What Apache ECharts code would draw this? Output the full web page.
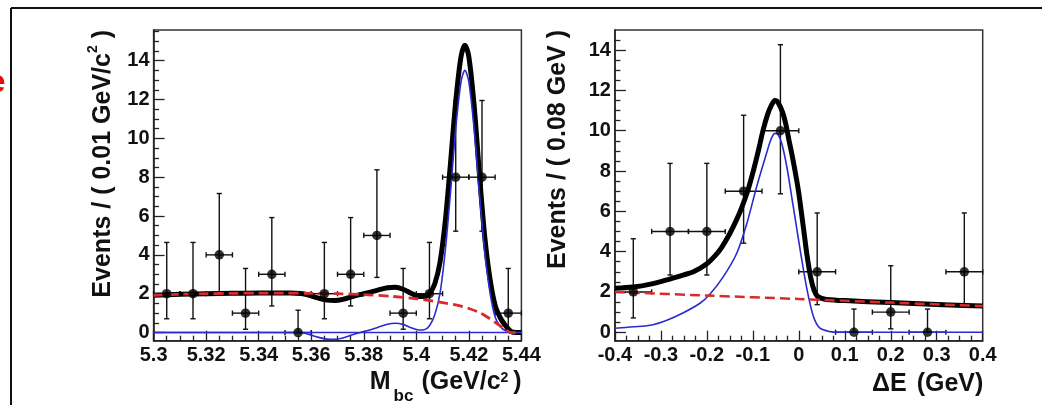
<!DOCTYPE html>
<html>
<head>
<meta charset="utf-8">
<script src="https://cdn.jsdelivr.net/npm/echarts@6/dist/echarts.min.js"></script>
<style>
html,body{margin:0;padding:0;background:#fff;}
#chart{width:1042px;height:405px;}
</style>
</head>
<body>
<div id="chart"></div>
<script>
// ---------------- DATA ----------------
// Left panel: Mbc distribution (bin width 0.01 GeV/c^2)
const mbcCenters = [5.305,5.315,5.325,5.335,5.345,5.355,5.365,5.375,5.385,5.395,5.405,5.415,5.425,5.435];
const mbcCounts  = [2,2,4,1,3,0,2,3,5,1,2,8,8,1];
const mbcErrLow  = [0.71,0.71,2.09,0.17,1.37,0,0.71,1.37,2.84,0.17,0.71,5.22,5.22,0.17];
const mbcErrHigh = [4.64,4.64,7.16,3.30,5.92,1.15,4.64,5.92,8.38,3.30,4.64,11.95,11.95,3.30];
const mbcHalfBin = 0.005;

const mbcTotalCurve = [[5.300,1.92],[5.310,1.97],[5.320,2.00],[5.330,2.02],[5.340,2.03],[5.352,2.03],[5.356,2.01],[5.359,1.93],[5.362,1.80],[5.366,1.67],[5.369,1.65],[5.372,1.71],[5.376,1.87],[5.380,2.00],[5.385,2.17],[5.389,2.31],[5.392,2.33],[5.395,2.23],[5.398,2.02],[5.401,1.86],[5.403,1.85],[5.405,2.02],[5.407,2.5],[5.409,3.6],[5.411,5.7],[5.413,8.7],[5.415,11.9],[5.417,14.2],[5.4185,14.8],[5.420,14.2],[5.422,11.7],[5.424,8.2],[5.426,5.0],[5.428,2.8],[5.430,1.4],[5.432,0.75],[5.434,0.35],[5.436,0.06],[5.438,0.0],[5.440,0.0]];
const mbcSignalCurve = [[5.300,0],[5.355,0],[5.358,-0.05],[5.362,-0.22],[5.366,-0.34],[5.369,-0.35],[5.372,-0.28],[5.376,-0.1],[5.380,0.05],[5.385,0.25],[5.389,0.43],[5.392,0.48],[5.395,0.42],[5.398,0.25],[5.401,0.13],[5.403,0.14],[5.405,0.35],[5.407,0.9],[5.409,2.0],[5.411,4.2],[5.413,7.2],[5.415,10.5],[5.417,12.9],[5.4185,13.5],[5.420,12.9],[5.422,10.5],[5.424,7.2],[5.426,4.2],[5.428,2.1],[5.430,0.8],[5.432,0.3],[5.434,0.09],[5.436,0.02],[5.438,0],[5.440,0]];
const mbcZeroLine = [[5.300,0],[5.440,0]];
const mbcBkgCurve = [[5.300,1.92],[5.310,1.97],[5.320,2.00],[5.330,2.02],[5.340,2.03],[5.350,2.03],[5.360,2.02],[5.370,2.00],[5.380,1.95],[5.390,1.87],[5.400,1.74],[5.405,1.65],[5.410,1.54],[5.415,1.42],[5.420,1.24],[5.424,1.03],[5.427,0.80],[5.430,0.52],[5.433,0.24],[5.435,0.06],[5.436,0],[5.440,0]];

// Right panel: Delta E distribution (bin width 0.08 GeV)
const deCenters = [-0.36,-0.28,-0.20,-0.12,-0.04,0.04,0.12,0.20,0.28,0.36];
const deCounts  = [2,5,5,7,10,3,0,1,0,3];
const deErrLow  = [0.71,2.84,2.84,4.42,6.87,1.37,0,0.17,0,1.37];
const deErrHigh = [4.64,8.38,8.38,10.77,14.27,5.92,1.15,3.30,1.15,5.92];
const deHalfBin = 0.04;

const deTotalCurve = [[-0.40,2.18],[-0.36,2.24],[-0.32,2.40],[-0.287,2.6],[-0.25,2.85],[-0.229,3.0],[-0.20,3.4],[-0.18,3.85],[-0.168,4.2],[-0.15,4.9],[-0.135,5.6],[-0.124,6.2],[-0.11,7.1],[-0.099,8.0],[-0.088,9.0],[-0.078,10.0],[-0.068,10.8],[-0.06,11.25],[-0.052,11.5],[-0.045,11.4],[-0.035,10.9],[-0.028,10.3],[-0.022,9.6],[-0.013,8.6],[-0.005,7.6],[0.0,6.9],[0.01,5.2],[0.018,3.8],[0.026,2.7],[0.033,2.1],[0.04,1.8],[0.05,1.68],[0.06,1.63],[0.10,1.57],[0.20,1.47],[0.30,1.38],[0.40,1.30]];
const deSignalCurve = [[-0.40,0.2],[-0.36,0.27],[-0.323,0.35],[-0.287,0.6],[-0.251,0.97],[-0.215,1.44],[-0.193,1.9],[-0.164,2.76],[-0.135,3.92],[-0.113,5.4],[-0.092,7.2],[-0.07,8.9],[-0.06,9.6],[-0.052,9.87],[-0.045,9.8],[-0.037,9.37],[-0.026,8.2],[-0.012,6.23],[0.003,4.08],[0.018,2.1],[0.032,0.77],[0.046,0.2],[0.068,0.03],[0.09,0],[0.40,0]];
const deBkgCurve = [[-0.40,2.0],[-0.20,1.82],[0.0,1.65],[0.20,1.47],[0.40,1.30]];

// Tick values
const yMajorTicks = [0,2,4,6,8,10,12,14];
const yMinorTicksLeft  = [0.5,1,1.5,2.5,3,3.5,4.5,5,5.5,6.5,7,7.5,8.5,9,9.5,10.5,11,11.5,12.5,13,13.5,14.5,15,15.5];
const yMinorTicksRight = [0.5,1,1.5,2.5,3,3.5,4.5,5,5.5,6.5,7,7.5,8.5,9,9.5,10.5,11,11.5,12.5,13,13.5,14.5];

// ---------------- CHART ----------------
const FONT = 'Liberation Sans';
const chart = echarts.init(document.getElementById('chart'), null, {renderer:'canvas'});

const measCtx = document.createElement('canvas').getContext('2d');
function textW(t, s){ measCtx.font = 'bold ' + s + 'px "' + FONT + '"'; return measCtx.measureText(t).width; }
// parts: {t, s, dy, gap}; right-aligned at group origin, baseline at y=0 (+dy)
function titleGroup(parts, x, y, rotation){
  const ws = parts.map(p => textW(p.t, p.s) + (p.gap||0));
  let cx = -ws.reduce((a,b)=>a+b,0);
  const children = parts.map((p,i) => {
    const el = {type:'text', x: cx, y: (p.dy||0) - 0.35*p.s,
      style:{text:p.t, font:'bold ' + p.s + 'px "' + FONT + '"', fill:'#111',
             align:'left', textAlign:'left', verticalAlign:'middle', textVerticalAlign:'middle'}};
    cx += ws[i];
    return el;
  });
  return {type:'group', x:x, y:y, rotation:rotation||0, children:children};
}

function errorBars(halfWidth){
  return function(params, api){
    const x = api.value(0), y = api.value(1), lo = api.value(2), hi = api.value(3);
    const top = api.coord([x,hi]), bot = api.coord([x,lo]);
    const l = api.coord([x-halfWidth,y]), r = api.coord([x+halfWidth,y]);
    const cap = 2.6;
    const st = {stroke:'#111', lineWidth:1.4};
    const ch = [
      {type:'line', shape:{x1:top[0],y1:top[1],x2:bot[0],y2:bot[1]}, style:st},
      {type:'line', shape:{x1:top[0]-cap,y1:top[1],x2:top[0]+cap,y2:top[1]}, style:st},
      {type:'line', shape:{x1:bot[0]-cap,y1:bot[1],x2:bot[0]+cap,y2:bot[1]}, style:st},
      {type:'line', shape:{x1:l[0],y1:l[1],x2:r[0],y2:r[1]}, style:st},
      {type:'line', shape:{x1:l[0],y1:l[1]-cap,x2:l[0],y2:l[1]+cap}, style:st},
      {type:'line', shape:{x1:r[0],y1:r[1]-cap,x2:r[0],y2:r[1]+cap}, style:st}
    ];
    return {type:'group', children:ch};
  };
}

const axisLineStyle = {color:'#222', width:1.5};
const tickStyle = {color:'#222', width:1.3};
const labelStyle = {color:'#111', fontFamily:FONT, fontWeight:'bold', fontSize:20};

function xAxisDef(gi, min, max, interval, dec){
  return {gridIndex:gi, type:'value', min:min, max:max, interval:interval,
    axisLine:{show:true, onZero:false, lineStyle:axisLineStyle},
    axisTick:{show:true, inside:true, length:10, lineStyle:tickStyle},
    minorTick:{show:true, splitNumber:4, length:5, lineStyle:tickStyle},
    splitLine:{show:false}, minorSplitLine:{show:false},
    axisLabel:Object.assign({margin:5, showMinLabel:true, showMaxLabel:true,
      formatter: v => String(parseFloat(v.toFixed(dec)))}, labelStyle)};
}
function yMainDef(gi, min, max){
  return {gridIndex:gi, type:'value', min:min, max:max, position:'left',
    axisLine:{show:true, onZero:false, lineStyle:axisLineStyle},
    axisTick:{show:true, inside:true, length:11, lineStyle:tickStyle, customValues:yMajorTicks},
    splitLine:{show:false},
    axisLabel:Object.assign({margin:4, customValues:yMajorTicks, formatter: v => String(v)}, labelStyle)};
}
function yMinorDef(gi, min, max, vals){
  return {gridIndex:gi, type:'value', min:min, max:max, position:'left', offset:0,
    axisLine:{show:false, onZero:false},
    axisTick:{show:true, inside:true, length:5.5, lineStyle:tickStyle, customValues:vals},
    splitLine:{show:false},
    axisLabel:{show:false, customValues:vals}};
}

function curve(xi, yi, data, color, width, dash, z){
  return {type:'line', xAxisIndex:xi, yAxisIndex:yi, data:data, showSymbol:false, symbol:'none',
    smooth:0.3, silent:true, z:z,
    lineStyle:{color:color, width:width, type:dash||'solid', cap:'butt', join:'round'}};
}

const RED = '#d92b2b', BLUE = '#2b2bd0';

const option = {
  animation:false,
  backgroundColor:'#fff',
  grid:[
    {left:153.6, right:520.6, top:30, bottom:64.3, show:true, borderColor:'#333', borderWidth:1.5, backgroundColor:'transparent'},
    {left:614.9, right:59.3, top:30, bottom:64.3, show:true, borderColor:'#333', borderWidth:1.5, backgroundColor:'transparent'}
  ],
  xAxis:[ xAxisDef(0, 5.3, 5.44, 0.02, 2), xAxisDef(1, -0.4, 0.4, 0.1, 1) ],
  yAxis:[ yMainDef(0, -0.42, 15.58), yMinorDef(0, -0.42, 15.58, yMinorTicksLeft),
          yMainDef(1, -0.42, 15.0), yMinorDef(1, -0.42, 15.0, yMinorTicksRight) ],
  series:[
    {type:'custom', xAxisIndex:0, yAxisIndex:0, renderItem:errorBars(mbcHalfBin), z:3, silent:true,
     encode:{x:0,y:1}, data: mbcCenters.map((x,i)=>[x, mbcCounts[i], mbcErrLow[i], mbcErrHigh[i]])},
    curve(0,0,mbcTotalCurve,'#000',5,'solid',4),
    curve(0,0,mbcZeroLine,BLUE,1.6,'solid',5),
    curve(0,0,mbcSignalCurve,BLUE,1.6,'solid',5),
    curve(0,0,mbcBkgCurve,RED,2.8,[10,5],6),
    {type:'scatter', xAxisIndex:0, yAxisIndex:0, symbol:'circle', symbolSize:9.5, z:7, silent:true,
     itemStyle:{color:'#000'}, data: mbcCenters.map((x,i)=>[x, mbcCounts[i]])},

    {type:'custom', xAxisIndex:1, yAxisIndex:2, renderItem:errorBars(deHalfBin), z:3, silent:true,
     encode:{x:0,y:1}, data: deCenters.map((x,i)=>[x, deCounts[i], deErrLow[i], deErrHigh[i]])},
    curve(1,2,deTotalCurve,'#000',5,'solid',4),
    curve(1,2,deSignalCurve,BLUE,1.6,'solid',5),
    curve(1,2,deBkgCurve,RED,2.5,[10,5],6),
    {type:'scatter', xAxisIndex:1, yAxisIndex:2, symbol:'circle', symbolSize:9.5, z:7, silent:true,
     itemStyle:{color:'#000'}, data: deCenters.map((x,i)=>[x, deCounts[i]])}
  ],
  graphic:[
    {type:'line', shape:{x1:11,y1:8,x2:1042,y2:8}, style:{stroke:'#111', lineWidth:2}},
    {type:'line', shape:{x1:11,y1:8,x2:11,y2:405}, style:{stroke:'#111', lineWidth:2}},
    {type:'text', x:5.5, y:83, style:{text:'e', font:'bold 32px "' + FONT + '"', fill:'#e01010',
      align:'right', textAlign:'right', verticalAlign:'middle', textVerticalAlign:'middle'}},
    titleGroup([{t:'Events / ( 0.01 GeV/c', s:25},{t:'2', s:14, dy:-14},{t:' )', s:25}], 111.7, 30, Math.PI/2),
    titleGroup([{t:'Events / ( 0.08 GeV )', s:25}], 566.7, 30, Math.PI/2),
    titleGroup([{t:'M', s:25, gap:3},{t:'bc', s:17, dy:11, gap:8},{t:'(GeV/c', s:25},{t:'2', s:14, dy:-8, gap:5},{t:')', s:25}], 521.7, 391),
    titleGroup([{t:'\u0394E', s:25, gap:3},{t:' (GeV)', s:25}], 983.3, 392.5)
  ]
};
chart.setOption(option);
</script>
</body>
</html>
